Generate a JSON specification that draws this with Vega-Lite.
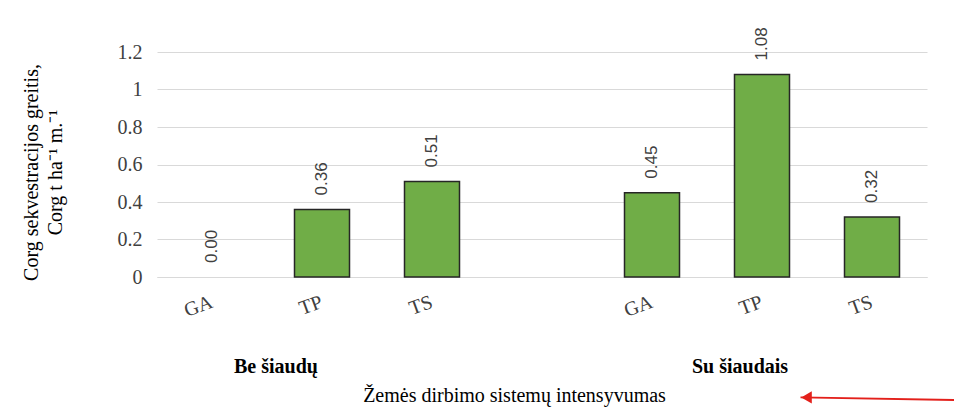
{
  "$schema": "https://vega.github.io/schema/vega-lite/v6.json",
  "width": 770,
  "height": 225,
  "autosize": {"type": "none"},
  "padding": {"left": 157, "top": 52, "right": 27, "bottom": 133},
  "background": "white",
  "config": {"view": {"stroke": null}, "font": "Liberation Serif"},
  "datasets": {
    "bars": [
      {"cat": "1 GA", "group": "Be šiaudų", "sys": "GA", "value": 0.00},
      {"cat": "1 TP", "group": "Be šiaudų", "sys": "TP", "value": 0.36},
      {"cat": "1 TS", "group": "Be šiaudų", "sys": "TS", "value": 0.51},
      {"cat": "2 GA", "group": "Su šiaudais", "sys": "GA", "value": 0.45},
      {"cat": "2 TP", "group": "Su šiaudais", "sys": "TP", "value": 1.08},
      {"cat": "2 TS", "group": "Su šiaudais", "sys": "TS", "value": 0.32}
    ],
    "groups": [
      {"cat": "1 TP", "group": "Be šiaudų"},
      {"cat": "2 TP", "group": "Su šiaudais"}
    ],
    "arrow": [{"from": 7.25, "to": 5.85, "yFrom": -0.656, "yTo": -0.642}]
  },
  "layer": [
    {
      "data": {"name": "bars"},
      "encoding": {
        "x": {
          "field": "cat",
          "type": "nominal",
          "sort": null,
          "scale": {"domain": ["1 GA", "1 TP", "1 TS", "gap", "2 GA", "2 TP", "2 TS"], "paddingInner": 0.5, "paddingOuter": 0.25},
          "axis": {
            "title": "Žemės dirbimo  sistemų intensyvumas",
            "titleFont": "Liberation Serif",
            "titleFontSize": 20,
            "titleFontWeight": "normal",
            "titleColor": "#000000",
            "titleX": 357,
            "titleY": 118,
            "titleAlign": "center",
            "titleBaseline": "middle",
            "labelExpr": "datum.label == 'gap' ? '' : substring(datum.label, 2)",
            "labelAngle": -20,
            "labelAlign": "right",
            "labelBaseline": "middle",
            "labelPadding": 24,
            "labelFont": "Liberation Serif",
            "labelFontSize": 20,
            "labelColor": "#404040",
            "ticks": false,
            "grid": false,
            "domainColor": "#d9d9d9",
            "domainWidth": 1
          }
        },
        "y": {
          "field": "value",
          "type": "quantitative",
          "scale": {"domain": [0, 1.2], "nice": false, "zero": true},
          "axis": {
            "values": [0, 0.2, 0.4, 0.6, 0.8, 1, 1.2],
            "format": ".1~f",
            "labelFont": "Liberation Serif",
            "labelFontSize": 20,
            "labelColor": "#404040",
            "labelPadding": 15,
            "ticks": false,
            "domain": false,
            "gridColor": "#d9d9d9",
            "gridWidth": 1,
            "title": ["Corg sekvestracijos greitis,", "Corg t ha⁻¹ m.⁻¹"],
            "titleFont": "Liberation Serif",
            "titleFontSize": 20,
            "titleFontWeight": "normal",
            "titleColor": "#000000",
            "titleAngle": 270,
            "titleX": -126,
            "titleY": 120,
            "titleAlign": "center",
            "titleBaseline": "middle",
            "titleLineHeight": 24
          }
        }
      },
      "layer": [
        {
          "mark": {"type": "bar", "fill": "#70ad47", "stroke": "#262626", "strokeWidth": 1.5},
          "encoding": {"strokeOpacity": {"condition": {"test": "datum.value == 0", "value": 0}, "value": 1}}
        },
        {
          "mark": {"type": "text", "angle": 270, "align": "left", "baseline": "middle", "dx": 14, "font": "Liberation Sans", "fontSize": 17, "color": "#404040"},
          "encoding": {"text": {"field": "value", "type": "quantitative", "format": ".2f"}}
        }
      ]
    },
    {
      "data": {"name": "groups"},
      "encoding": {
        "x": {
          "field": "cat",
          "type": "nominal",
          "sort": null,
          "scale": {"domain": ["1 GA", "1 TP", "1 TS", "gap", "2 GA", "2 TP", "2 TS"], "paddingInner": 0.5, "paddingOuter": 0.25},
          "axis": null
        },
        "y": {"datum": -0.48, "type": "quantitative", "scale": {"domain": [0, 1.2], "nice": false, "zero": false}, "axis": null},
        "text": {"field": "group", "type": "nominal"}
      },
      "layer": [
        {
          "transform": [{"filter": "datum.cat == '1 TP'"}],
          "mark": {"type": "text", "align": "center", "baseline": "middle", "dx": -46, "font": "Liberation Serif", "fontSize": 20, "fontWeight": "bold", "color": "#000000"}
        },
        {
          "transform": [{"filter": "datum.cat == '2 TP'"}],
          "mark": {"type": "text", "align": "center", "baseline": "middle", "dx": -22, "font": "Liberation Serif", "fontSize": 20, "fontWeight": "bold", "color": "#000000"}
        }
      ]
    },
    {
      "data": {"name": "arrow"},
      "encoding": {
        "x": {"field": "from", "type": "quantitative", "scale": {"domain": [0, 7], "nice": false, "zero": false}, "axis": null},
        "y": {"field": "yFrom", "type": "quantitative", "scale": {"domain": [0, 1.2], "nice": false, "zero": false}, "axis": null}
      },
      "layer": [
        {
          "mark": {"type": "rule", "color": "#e3201b", "strokeWidth": 2},
          "encoding": {"x2": {"field": "to"}, "y2": {"field": "yTo"}}
        },
        {
          "mark": {"type": "point", "shape": "triangle-left", "filled": true, "color": "#e3201b", "opacity": 1, "size": 150, "xOffset": 6},
          "encoding": {"x": {"field": "to", "type": "quantitative"}, "y": {"field": "yTo", "type": "quantitative"}}
        }
      ]
    }
  ],
  "resolve": {"scale": {"x": "independent", "y": "independent"}}
}
